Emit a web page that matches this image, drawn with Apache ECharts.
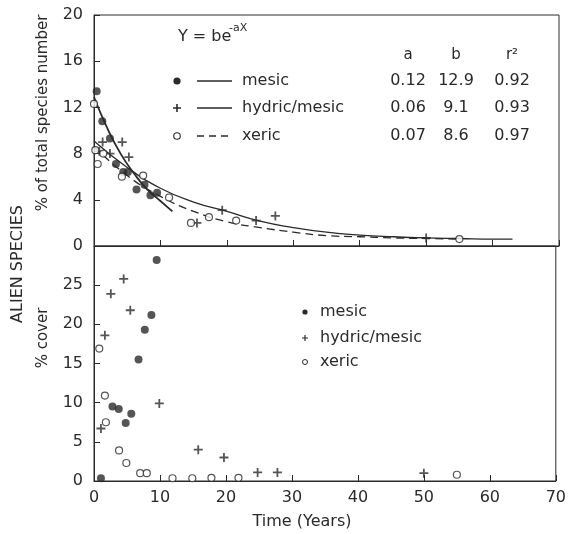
<!DOCTYPE html>
<html><head><meta charset="utf-8">
<script src="https://cdn.jsdelivr.net/npm/echarts@6/dist/echarts.min.js"></script>
<style>html,body{margin:0;padding:0;background:#fff}#c{width:569px;height:534px}</style>
</head><body><div id="c"></div>
<script>
// ---- data ----
const xTicks = [0, 10, 20, 30, 40, 50, 60, 70];
const speciesTicks = [0, 4, 8, 12, 16, 20];
const coverTicks = [0, 5, 10, 15, 20, 25];

// Top panel: % of total species number
const mesicSpecies = [[0.4,13.4],[1.25,10.8],[2.4,9.3],[3.3,7.1],[4.4,6.4],[5.1,6.4],[6.4,4.9],[7.6,5.3],[8.5,4.4],[9.5,4.6]];
const hydricSpecies = [[0.8,8.2],[1.3,9.0],[2.4,8.0],[4.25,9.0],[5.25,7.7],[15.5,2.0],[19.3,3.1],[24.4,2.2],[27.3,2.6],[50,0.7]];
const xericSpecies = [[0,12.3],[0.2,8.3],[0.55,7.1],[1.4,8.0],[4.2,6.0],[7.4,6.1],[11.3,4.2],[14.6,2.0],[17.3,2.5],[21.4,2.2],[55,0.6]];

// fitted curves
const mesicFit = [[0,12.9],[2,10.2],[4,8.0],[6,6.3],[8,4.9],[10,3.9],[11.8,3.0]];
const hydricFit = [[0,9.1],[5,6.8],[10,5.0],[15,3.8],[20,3.0],[25,2.15],[30,1.6],[35,1.2],[40,0.95],[45,0.8],[50,0.7],[55,0.65],[60,0.6],[63,0.6]];
const xericFit = [[0,8.6],[5,6.1],[10,4.3],[15,3.0],[20,2.1],[25,1.6],[30,1.2],[35,0.9],[40,0.8],[45,0.7],[50,0.65],[55,0.6]];

// Bottom panel: % cover
const mesicCover = [[1.05,0.35],[2.8,9.5],[3.75,9.2],[4.8,7.4],[5.65,8.6],[6.75,15.5],[7.7,19.3],[8.7,21.2],[9.5,28.2]];
const hydricCover = [[1.05,6.7],[1.65,18.6],[2.55,23.9],[4.5,25.8],[5.5,21.8],[9.9,9.9],[15.8,4.0],[19.7,3.0],[24.8,1.1],[27.8,1.1],[50,1.0]];
const xericCover = [[0.8,16.9],[1.65,10.9],[1.8,7.5],[3.8,3.9],[4.9,2.3],[7.0,1.0],[8.0,1.0],[11.9,0.35],[14.9,0.35],[17.8,0.4],[21.9,0.4],[55,0.8]];

const fitHeader = ['a', 'b', 'r²'];
const fitRows = [['0.12','12.9','0.92'],['0.06','9.1','0.93'],['0.07','8.6','0.97']];
const groupNames = ['mesic', 'hydric/mesic', 'xeric'];

// ---- styling ----
const INK = '#2a2a2a';
const FONT = 'DejaVu Sans';
const PLUS = 'path://M4,0H6V4H10V6H6V10H4V6H0V4H4Z';

const chart = echarts.init(document.getElementById('c'), null, {renderer: 'canvas'});

function xAx(grid, labels) {
  return {
    gridIndex: grid, type: 'value', min: 0, max: 70, interval: 10,
    axisLine: {show: true, onZero: false, lineStyle: {color: INK, width: 1}},
    axisTick: {show: true, inside: true, length: 6, lineStyle: {color: INK}},
    axisLabel: {show: labels, fontSize: 16, fontFamily: FONT, color: INK, margin: 9},
    splitLine: {show: false}
  };
}
function yAx(grid, max, interval, hideMax) {
  return {
    gridIndex: grid, type: 'value', min: 0, max: max, interval: interval,
    axisLine: {show: true, onZero: false, lineStyle: {color: INK, width: 1}},
    axisTick: {show: true, inside: true, length: 6, lineStyle: {color: INK}},
    axisLabel: {fontSize: 16, fontFamily: FONT, color: INK, margin: 11,
      formatter: v => (hideMax && v === max) ? '' : String(v)},
    splitLine: {show: false}
  };
}

const filled = () => ({symbol: 'circle', symbolSize: 8, itemStyle: {color: INK}});
const plus = () => ({symbol: PLUS, symbolSize: 9, itemStyle: {color: INK}});
const open = () => ({symbol: 'circle', symbolSize: 7, itemStyle: {color: '#fff', borderColor: INK, borderWidth: 1.2}});

function scatter(data, xi, yi, st) {
  return Object.assign({type: 'scatter', xAxisIndex: xi, yAxisIndex: yi, data: data, z: 3, clip: false}, st);
}
function fit(data, width, dash) {
  return {type: 'line', xAxisIndex: 0, yAxisIndex: 0, data: data, smooth: true, showSymbol: false, z: 2,
    lineStyle: {color: INK, width: width, type: dash ? [8, 5] : 'solid'}};
}

// legend / annotation graphics
const T = (text, x, y, size, align, extra) => Object.assign({
  type: 'text', x: x, y: y,
  style: {text: text, font: size + 'px "' + FONT + '"', fill: INK,
    align: align || 'left', verticalAlign: 'middle', textAlign: align || 'left', textVerticalAlign: 'middle'}
}, extra || {});
const L = (x1, x2, y, dash) => ({type: 'line', shape: {x1: x1, y1: y, x2: x2, y2: y},
  style: {stroke: INK, lineWidth: 1.4, lineDash: dash ? [7, 5] : null}});
const plusGlyph = (cx, cy, r, t) => ({type: 'polygon', shape: {points: [
  [cx - t, cy - r], [cx + t, cy - r], [cx + t, cy - t], [cx + r, cy - t], [cx + r, cy + t], [cx + t, cy + t],
  [cx + t, cy + r], [cx - t, cy + r], [cx - t, cy + t], [cx - r, cy + t], [cx - r, cy - t], [cx - t, cy - t]]},
  style: {fill: INK}});

const legendRowsY = [81, 108, 136];
const colX = [408, 456, 512];
const graphics = [];
// formula
graphics.push(T('Y = be', 178, 37, 16));
graphics.push(T('-aX', 229, 28, 11));
// top legend
graphics.push({type: 'circle', shape: {cx: 177, cy: legendRowsY[0], r: 3.6}, style: {fill: INK}});
graphics.push(plusGlyph(177, legendRowsY[1], 4, 0.8));
graphics.push({type: 'circle', shape: {cx: 177, cy: legendRowsY[2], r: 3.3}, style: {fill: '#fff', stroke: INK, lineWidth: 1.1}});
graphics.push(L(197, 232, legendRowsY[0], false));
graphics.push(L(197, 232, legendRowsY[1], false));
graphics.push(L(197, 232, legendRowsY[2], true));
groupNames.forEach((n, i) => graphics.push(T(n, 242, legendRowsY[i], 16)));
// table
fitHeader.forEach((h, j) => graphics.push(T(h, colX[j], 55, 15, 'center')));
fitRows.forEach((r, i) => r.forEach((v, j) => graphics.push(T(v, colX[j], legendRowsY[i], 16, 'center'))));
// bottom legend
const bRowsY = [312, 338, 362];
graphics.push({type: 'circle', shape: {cx: 305, cy: bRowsY[0], r: 2.6}, style: {fill: INK}});
graphics.push(plusGlyph(305, bRowsY[1], 3, 0.6));
graphics.push({type: 'circle', shape: {cx: 305, cy: bRowsY[2], r: 2.5}, style: {fill: '#fff', stroke: INK, lineWidth: 1}});
groupNames.forEach((n, i) => graphics.push(T(n, 320, bRowsY[i], 16)));
// axis titles
graphics.push(T('% of total species number', 43, 113, 15, 'center', {rotation: Math.PI / 2}));
graphics.push(T('ALIEN SPECIES', 18, 264, 16, 'center', {rotation: Math.PI / 2}));
graphics.push(T('% cover', 43, 338, 15, 'center', {rotation: Math.PI / 2}));
graphics.push(T('Time (Years)', 302, 522, 16, 'center'));

chart.setOption({
  animation: false,
  backgroundColor: '#fff',
  grid: [
    {left: 94, right: 10, top: 15, height: 231, show: true, borderColor: INK, borderWidth: 1, backgroundColor: 'transparent'},
    {left: 94, right: 10, top: 246, height: 235, show: true, borderColor: INK, borderWidth: 1, backgroundColor: 'transparent'}
  ],
  xAxis: [xAx(0, false), xAx(1, true)],
  yAxis: [yAx(0, 20, 4, false), yAx(1, 30, 5, true)],
  series: [
    fit(mesicFit, 1.8, false),
    fit(hydricFit, 1.3, false),
    fit(xericFit, 1.3, true),
    scatter(mesicSpecies, 0, 0, filled()),
    scatter(hydricSpecies, 0, 0, plus()),
    scatter(xericSpecies, 0, 0, open()),
    scatter(mesicCover, 1, 1, filled()),
    scatter(hydricCover, 1, 1, plus()),
    scatter(xericCover, 1, 1, open())
  ],
  graphic: graphics
});
</script>
</body></html>
